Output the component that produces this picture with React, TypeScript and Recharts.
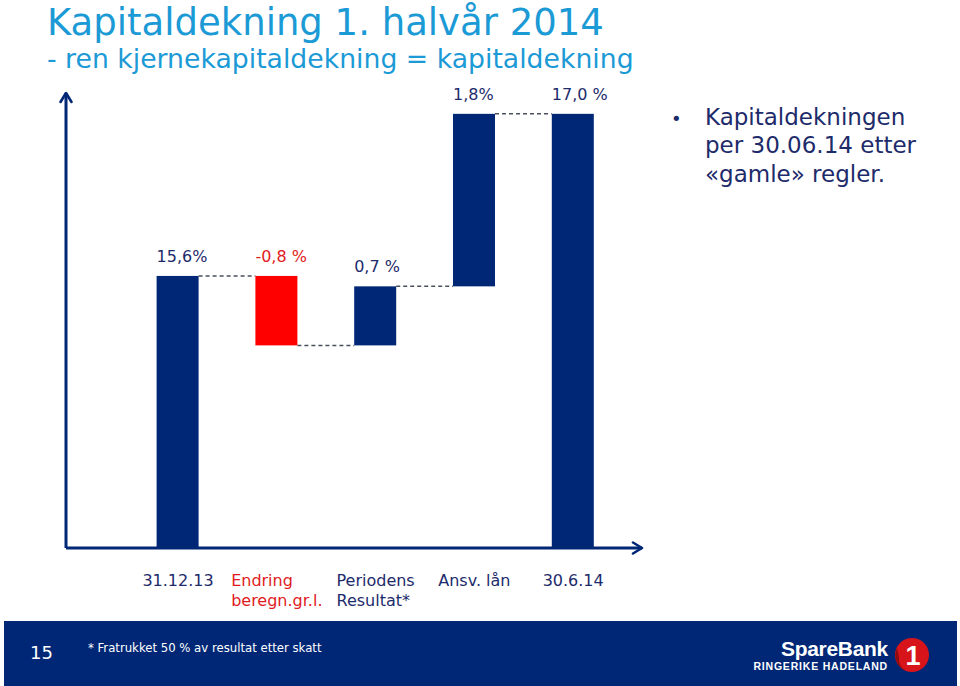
import React from "react";
import { ComposedChart, Bar, XAxis, YAxis, Cell, LabelList } from "recharts";

// categories along the x axis ("\n" = line break in the tick label)
const categories = ["31.12.13", "Endring\nberegn.gr.l.", "Periodens\nResultat*", "Ansv. lån", "30.6.14"];
// labels printed above each bar
const valueLabels = ["15,6%", "-0,8 %", "0,7 %", "1,8%", "17,0 %"];
// bar extents as drawn on the slide (percent); null start = total bar from the axis
const stepFrom: (number | null)[] = [null, 15.6, 15.0, 15.51, null];
const stepTo = [15.6, 15.0, 15.51, 17.0, 17.0];

const NAVY = "#002776";
const RED = "#ff0000";
const TEXT_NAVY = "#1d2b6b";
const TEXT_RED = "#e11b22";
const TITLE_BLUE = "#1b9ad6";
const DASH = "#4a5060";
const FONT = "'DejaVu Sans', Verdana, sans-serif";

// plot layout
const W = 960;
const H = 686;
const PLOT_LEFT = 66;
const PLOT_RIGHT = 642;
const PLOT_TOP = 93;
const PLOT_BOTTOM = 548;
const PAD_LEFT = 62.6;
const PAD_RIGHT = 19.4;
const BAR_SIZE = 42;
const BAND = (PLOT_RIGHT - PLOT_LEFT - PAD_LEFT - PAD_RIGHT) / categories.length;

const data = categories.map((cat, i) => {
  const from = stepFrom[i];
  const to = stepTo[i];
  return {
    cat,
    label: valueLabels[i],
    range: from == null ? to : [Math.min(from, to), Math.max(from, to)],
    down: from != null && to < from,
  };
});

let ctx: CanvasRenderingContext2D | null = null;
function textWidth(s: string) {
  if (!ctx) ctx = document.createElement("canvas").getContext("2d");
  if (!ctx) return s.length * 9;
  ctx.font = "16px 'DejaVu Sans'";
  return ctx.measureText(s).width;
}

function CategoryTick(props: any) {
  const { x, y, payload } = props;
  const row = data.find((d) => d.cat === payload.value);
  const lines = String(payload.value).split("\n");
  const w = Math.max(...lines.map(textWidth));
  const left = x - w / 2;
  return (
    <text x={left} y={y + 38} fill={row && row.down ? TEXT_RED : TEXT_NAVY} fontSize={16} fontFamily={FONT}>
      {lines.map((l, k) => (
        <tspan key={k} x={left} dy={k === 0 ? 0 : 20}>
          {l}
        </tspan>
      ))}
    </text>
  );
}

// bar + dashed connector to the next bar at the running level
function WaterfallBar(props: any) {
  const { x, y, width, height, index, fill } = props;
  const row = data[index];
  const top = height < 0 ? y + height : y;
  const h = Math.abs(height);
  const level = row.down ? top + h : top;
  return (
    <g>
      {index < data.length - 1 && (
        <line
          x1={x + width}
          x2={x + BAND}
          y1={level}
          y2={level}
          stroke={DASH}
          strokeWidth={1.5}
          strokeDasharray="4 3"
        />
      )}
      <rect x={x} y={top} width={width} height={h} fill={fill} />
    </g>
  );
}

function BarLabel(props: any) {
  const { x, y, height, index } = props;
  const row = data[index];
  const top = height < 0 ? y + height : y;
  return (
    <text x={x} y={top - 14} fill={row.down ? TEXT_RED : TEXT_NAVY} fontSize={16} fontFamily={FONT}>
      {row.label}
    </text>
  );
}

export default function App() {
  return (
    <div style={{ position: "absolute", left: 0, top: 0, width: W, height: H, background: "#fff", overflow: "hidden" }}>
      <ComposedChart
        width={W}
        height={H}
        data={data}
        margin={{ top: PLOT_TOP, left: PLOT_LEFT - 1, right: W - PLOT_RIGHT, bottom: H - PLOT_BOTTOM - 30 }}
      >
        <defs>
          <marker
            id="axisArrow"
            viewBox="0 0 14 14"
            refX="12"
            refY="7"
            markerWidth="14"
            markerHeight="14"
            markerUnits="userSpaceOnUse"
            orient="auto-start-reverse"
          >
            <path d="M3,1.5 L12,7 L3,12.5" fill="none" stroke={NAVY} strokeWidth={2.6} strokeLinecap="round" strokeLinejoin="round" />
          </marker>
        </defs>
        <XAxis
          dataKey="cat"
          type="category"
          height={30}
          interval={0}
          padding={{ left: PAD_LEFT, right: PAD_RIGHT }}
          tickLine={false}
          tickSize={0}
          tickMargin={0}
          tick={<CategoryTick />}
          axisLine={{ stroke: NAVY, strokeWidth: 3, markerEnd: "url(#axisArrow)" } as any}
        />
        <YAxis
          type="number"
          width={1}
          domain={[13.25, 17.18]}
          allowDataOverflow
          tick={false}
          tickLine={false}
          axisLine={{ stroke: NAVY, strokeWidth: 3, markerStart: "url(#axisArrow)" } as any}
        />
        <Bar dataKey="range" barSize={BAR_SIZE} isAnimationActive={false} shape={<WaterfallBar />}>
          {data.map((d, i) => (
            <Cell key={i} fill={d.down ? RED : NAVY} />
          ))}
          <LabelList dataKey="label" content={<BarLabel />} />
        </Bar>
      </ComposedChart>

      <svg width={W} height={H} style={{ position: "absolute", left: 0, top: 0, pointerEvents: "none" }}>
        <text x={47} y={35} fill={TITLE_BLUE} fontSize={37} fontFamily={FONT}>
          Kapitaldekning 1. halvår 2014
        </text>
        <text x={47} y={68} fill={TITLE_BLUE} fontSize={26.7} fontFamily={FONT}>
          - ren kjernekapitaldekning = kapitaldekning
        </text>

        <text x={671} y={125} fill={TEXT_NAVY} fontSize={18} fontFamily={FONT}>•</text>
        <text fill={TEXT_NAVY} fontSize={23} fontFamily={FONT}>
          <tspan x={705} y={124.5}>Kapitaldekningen</tspan>
          <tspan x={705} y={153}>per 30.06.14 etter</tspan>
          <tspan x={705} y={181.5}>«gamle» regler.</tspan>
        </text>

        <rect x={4} y={621} width={953} height={65} fill={NAVY} />
        <text x={30} y={659} fill="#fff" fontSize={18} fontFamily={FONT}>15</text>
        <text x={88} y={652} fill="#fff" fontSize={13} fontFamily="'DejaVu Sans Condensed', 'Liberation Sans', sans-serif">
          * Fratrukket 50 % av resultat etter skatt
        </text>
        <text x={888} y={656} textAnchor="end" fill="#fff" fontSize={21} fontWeight="bold" letterSpacing={-0.3} fontFamily="'Liberation Sans', Arial, sans-serif">
          SpareBank
        </text>
        <text x={888} y={670} textAnchor="end" fill="#fff" fontSize={10.5} fontWeight="bold" letterSpacing={0.8} fontFamily="'Liberation Sans', Arial, sans-serif">
          RINGERIKE HADELAND
        </text>
        <circle cx={912} cy={655} r={17} fill="#d7141a" />
        <path d="M897,648 A17,17 0 0 0 906,671 A14,14 0 0 1 899,657 Z" fill="#8c0c10" />
        <text x={913} y={665} textAnchor="middle" fill="#fff" fontSize={27} fontWeight="bold" fontFamily="'Liberation Sans', Arial, sans-serif">
          1
        </text>
      </svg>
    </div>
  );
}
